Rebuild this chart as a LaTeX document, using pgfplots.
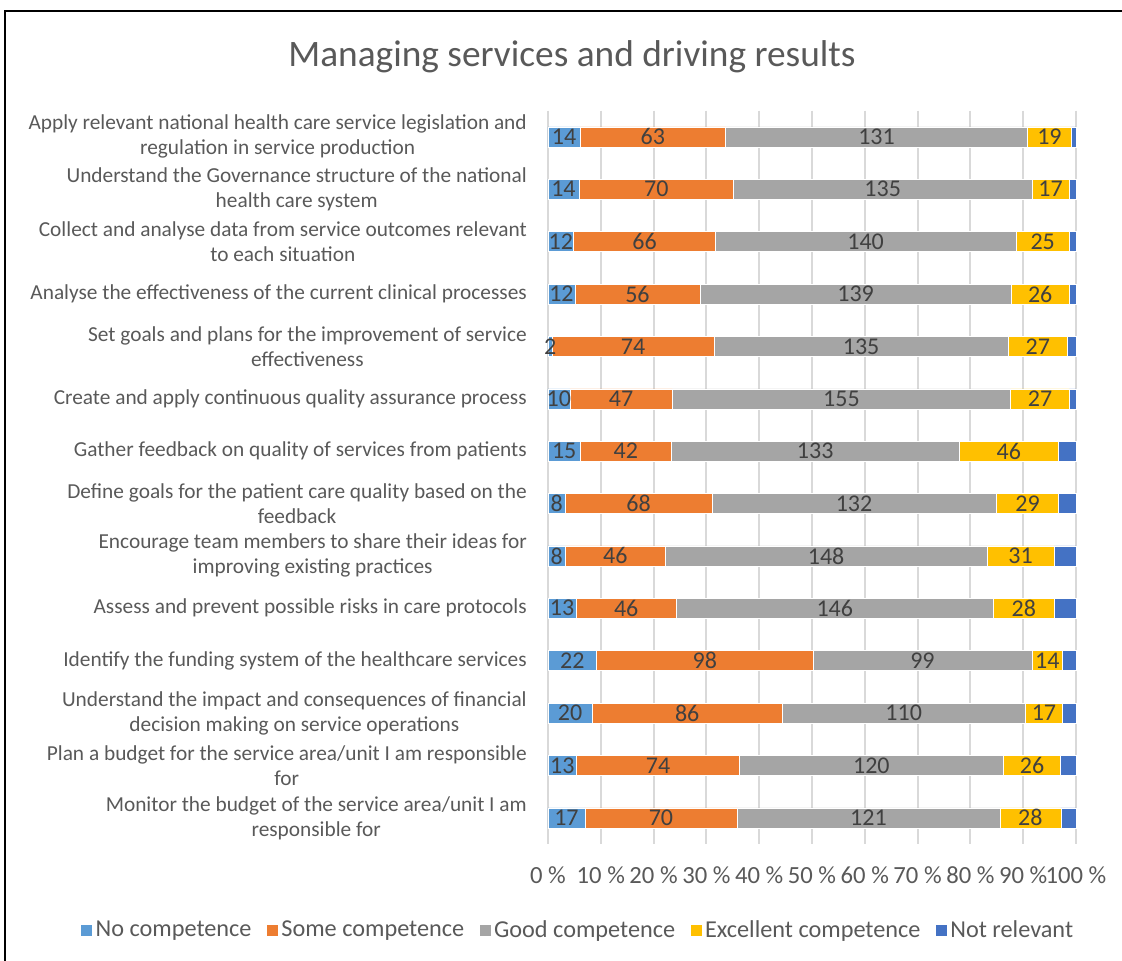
\documentclass[border=0pt]{standalone}
\usepackage{pgfplots}
\pgfplotsset{compat=1.18}
\usepackage{pgfplotstable}
\usepackage{fontspec}
\setmainfont{Carlito}
\definecolor{cNC}{HTML}{5B9BD5}
\definecolor{cSC}{HTML}{ED7D31}
\definecolor{cGC}{HTML}{A5A5A5}
\definecolor{cEC}{HTML}{FFC000}
\definecolor{cNR}{HTML}{4472C4}
\definecolor{cTxt}{HTML}{595959}
\definecolor{cLbl}{HTML}{404040}
\definecolor{cGrid}{HTML}{D9D9D9}
\pgfplotstableread{
id nc sc gc ec nr
1 14 63 131 19 2
2 14 70 135 17 3
3 12 66 140 25 3
4 12 56 139 26 3
5 2 74 135 27 4
6 10 47 155 27 3
7 15 42 133 46 8
8 8 68 132 29 8
9 8 46 148 31 10
10 13 46 146 28 10
11 22 98 99 14 6
12 20 86 110 17 6
13 13 74 120 26 7
14 17 70 121 28 7
}\datatable
\newcommand\tot{(\thisrow{nc}+\thisrow{sc}+\thisrow{gc}+\thisrow{ec}+\thisrow{nr})}
\pgfplotsset{
  seglabel/.style={
    nodes near coords,
    point meta=explicit,
    every node near coord/.style={anchor=center,
      font=\fontsize{18}{21}\selectfont, text=cLbl, inner sep=0pt},
  },
}
\begin{document}
\begin{tikzpicture}
\path[use as bounding box] (0,0) rectangle (841.5pt,720.75pt);
\draw[line width=1.2pt] (3.75pt,-2pt) -- (3.75pt,712.5pt) -- (845pt,712.5pt);
\node[font=\fontsize{28}{32}\selectfont, text=cTxt] at (429pt,678.5pt) {Managing services and driving results};
\begin{axis}[
  at={(411pt,87.75pt)}, anchor=south west,
  scale only axis, width=396pt, height=550pt,
  xbar stacked, bar width=15pt,
  xmin=0, xmax=100, ymin=0.5, ymax=14.5, y dir=reverse,
  clip=false,
  /pgf/number format/assume math mode=true,
  axis line style={draw=none},
  major tick length=0pt,
  xmajorgrids, major grid style={draw=cGrid, line width=1.4pt},
  ytick={1,...,14},
  yticklabels={
    {Apply relevant national health care service legislation and\\regulation in service production},
    {Understand the Governance structure of the national\\health care system},
    {Collect and analyse data from service outcomes relevant\\to each situation},
    {Analyse the effectiveness of the current clinical processes},
    {Set goals and plans for the improvement of service\\effectiveness},
    {Create and apply continuous quality assurance process},
    {Gather feedback on quality of services from patients},
    {Define goals for the patient care quality based on the\\feedback},
    {Encourage team members to share their ideas for\\improving existing practices},
    {Assess and prevent possible risks in care protocols},
    {Identify the funding system of the healthcare services},
    {Understand the impact and consequences of financial\\decision making on service operations},
    {Plan a budget for the service area/unit I am responsible\\for},
    {Monitor the budget of the service area/unit I am\\responsible for}},
  yticklabel style={align=center, anchor=east, inner sep=0pt, xshift=-15.75pt,
    font=\fontsize{16}{18.75}\selectfont, text=cTxt},
  xtick={0,10,...,100},
  xticklabels={0 \%,10 \%,20 \%,30 \%,40 \%,50 \%,60 \%,70 \%,80 \%,90 \%,100 \%},
  xticklabel style={anchor=center, inner sep=0pt, yshift=-23.25pt,
    font=\fontsize{18.5}{21}\selectfont, text=cTxt},
  legend columns=-1,
  legend style={at={(0.057,-0.117)}, anchor=center, draw=none, fill=none,
    font=\fontsize{18.2}{21}\selectfont, text=cTxt,
    /tikz/every even column/.append style={column sep=9pt}},
  legend image code/.code={\fill[#1] (0pt,-4.5pt) rectangle (9pt,4.5pt);},
]
\addplot[fill=cNC, draw=white, line width=0.4pt, seglabel] table[y=id, x expr=100*\thisrow{nc}/\tot, meta=nc] {\datatable};
\addplot[fill=cSC, draw=white, line width=0.4pt, seglabel] table[y=id, x expr=100*\thisrow{sc}/\tot, meta=sc] {\datatable};
\addplot[fill=cGC, draw=white, line width=0.4pt, seglabel] table[y=id, x expr=100*\thisrow{gc}/\tot, meta=gc] {\datatable};
\addplot[fill=cEC, draw=white, line width=0.4pt, seglabel] table[y=id, x expr=100*\thisrow{ec}/\tot, meta=ec] {\datatable};
\addplot[fill=cNR, draw=white, line width=0.4pt] table[y=id, x expr=100*\thisrow{nr}/\tot] {\datatable};
\legend{No competence, Some competence, Good competence, Excellent competence, Not relevant}
\end{axis}
\end{tikzpicture}
\end{document}
